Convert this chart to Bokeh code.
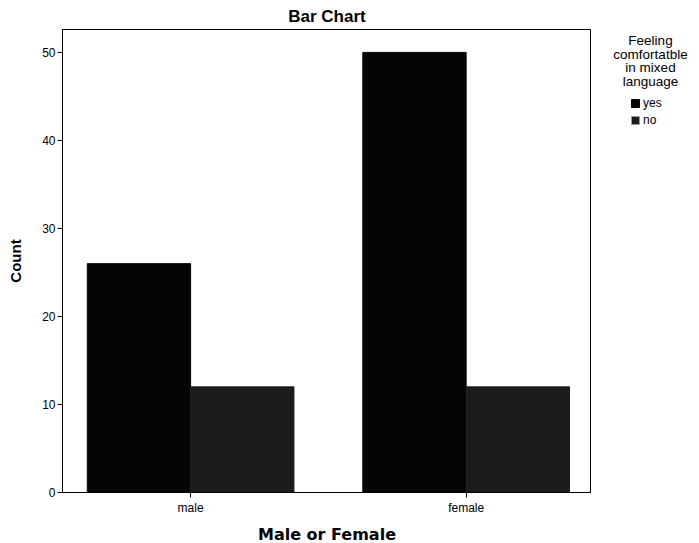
from bokeh.plotting import figure
from bokeh.layouts import row
from bokeh.models import ColumnDataSource, FixedTicker, Legend, LegendItem, Range1d, Label
from bokeh.embed import file_html
from bokeh.resources import INLINE

categories = ["male", "female"]
groups = ["yes", "no"]
yes_counts = [26, 50]
no_counts = [12, 12]
colors = ["#050505", "#1c1c1c"]
legend_title_lines = ["Feeling", "comfortatble", "in mixed", "language"]

xpos = list(range(len(categories)))
bw = 0.375

p = figure(width=591, height=543, frame_width=529, frame_height=463,
           output_backend="svg", toolbar_location=None,
           x_range=Range1d(-0.465, 1.455), y_range=Range1d(0, 52.6),
           min_border_left=62, min_border_top=28, min_border_bottom=52, min_border_right=0)

src_yes = ColumnDataSource(dict(x=[x - bw / 2 for x in xpos], top=yes_counts))
src_no = ColumnDataSource(dict(x=[x + bw / 2 for x in xpos], top=no_counts))
p.vbar(x="x", top="top", width=bw, source=src_yes, fill_color=colors[0], line_color=colors[0])
p.vbar(x="x", top="top", width=bw, source=src_no, fill_color=colors[1], line_color=colors[1])

p.title.text = "Bar Chart"
p.title.align = "center"
p.title.text_font = "Liberation Sans"
p.title.text_font_size = "17px"
p.title.text_font_style = "bold"
p.title.text_color = "black"
p.title.offset = 0
p.title.standoff = 8

p.xaxis.ticker = FixedTicker(ticks=xpos)
p.xaxis.major_label_overrides = {x: c for x, c in zip(xpos, categories)}
p.yaxis.ticker = FixedTicker(ticks=[0, 10, 20, 30, 40, 50])
for ax in (p.xaxis[0], p.yaxis[0]):
    ax.axis_line_color = "black"
    ax.major_tick_line_color = "black"
    ax.minor_tick_line_color = None
    ax.major_tick_in = 0
    ax.major_tick_out = 5
    ax.major_label_text_font = "Liberation Sans"
    ax.major_label_text_font_size = "12px"
    ax.major_label_text_color = "black"
    ax.axis_label_text_font = "Liberation Sans"
    ax.axis_label_text_font_style = "bold"
    ax.axis_label_text_color = "black"
    ax.major_label_standoff = 2
p.xaxis.major_label_standoff = 3
p.xaxis.axis_label = "Male or Female"
p.xaxis.axis_label_text_font = "DejaVu Sans"
p.xaxis.axis_label_text_font_size = "16px"
p.xaxis.axis_label_standoff = 7
p.yaxis.axis_label = "Count"
p.yaxis.axis_label_text_font_size = "15px"
p.yaxis.axis_label_standoff = 15

p.xgrid.visible = False
p.ygrid.visible = False
p.outline_line_color = "black"
p.outline_line_width = 1

# legend panel to the right of the chart (its frame is aligned with the chart frame)
lg = figure(width=108, height=543, output_backend="svg", toolbar_location=None,
            x_range=Range1d(0, 1), y_range=Range1d(0, 1),
            x_axis_location=None, y_axis_location=None,
            min_border=0, min_border_left=0, min_border_right=0,
            min_border_top=0, min_border_bottom=0)
lg.outline_line_color = None
lg.xgrid.visible = False
lg.ygrid.visible = False

for i, line in enumerate(legend_title_lines):
    lg.add_layout(Label(x=59, y=449 - i * 13.6, x_units="screen", y_units="screen",
                        text=line, text_align="center", text_baseline="middle",
                        text_font="Liberation Sans", text_font_size="13.5px", text_color="black"))

# proxy renderers (hidden) that only supply the legend swatches
d1 = lg.vbar(x=[0], top=[0], width=0.1, fill_color=colors[0], line_color=colors[0])
d2 = lg.vbar(x=[0], top=[0], width=0.1, fill_color=colors[1], line_color="#9a9a9a")
d1.visible = False
d2.visible = False
legend = Legend(items=[LegendItem(label=g, renderers=[r]) for g, r in zip(groups, [d1, d2])],
                location=(39, 362), inactive_fill_alpha=0,
                label_text_font="Liberation Sans", label_text_color="black",
                label_text_font_size="12px", glyph_width=10, glyph_height=10,
                label_standoff=3, spacing=3, padding=2, margin=0,
                border_line_color=None, background_fill_alpha=0, label_height=11)
lg.add_layout(legend, "center")

layout = row(p, lg, spacing=0)
open("out.html", "w").write(file_html(layout, INLINE))
